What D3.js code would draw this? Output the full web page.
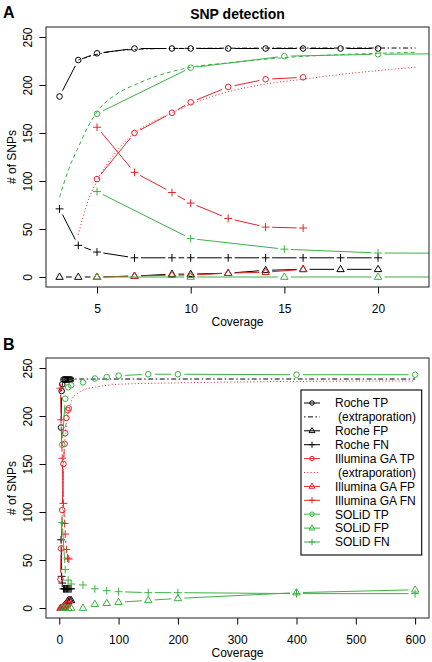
<!DOCTYPE html>
<html>
<head>
<meta charset="utf-8">
<script src="https://cdn.jsdelivr.net/npm/d3@7"></script>
<style>
  html, body { margin: 0; padding: 0; background: #fff; }
  svg { display: block; font-family: "Liberation Sans", Arial, Helvetica, sans-serif; }
</style>
</head>
<body>
<svg id="chart" width="432" height="662"></svg>
<script>
// ---------------- DATA ----------------
const rocheCov = [3, 4, 5, 7, 9, 10, 12, 14, 16, 18, 20];
const rocheTP  = [188, 226, 233, 238, 238, 238, 238, 238, 238, 238, 238];
const rocheFP  = [0, 0, 0, 1, 3, 3, 4, 7, 8, 8, 8];
const rocheFN  = [71, 33, 26, 20, 20, 20, 20, 20, 20, 20, 20];

const rocheExtCov = [4, 5, 6, 7, 8, 10, 14, 20, 22, 30, 50, 100, 200, 400, 600];
const rocheExt    = [226, 232, 235.5, 237, 237.8, 238.2, 238.4, 238.5, 238.5, 238.5, 238.5, 238.5, 238.5, 238.5, 238.5];

const illuminaCov = [5, 7, 9, 10, 12, 14, 16];
const illuminaTP  = [102, 150, 171, 182, 198, 206, 208];
const illuminaFP  = [0, 1, 2, 2, 4, 5, 8];
const illuminaFN  = [156, 109, 88, 77, 61, 52, 51];

// extra low-coverage Illumina runs shown only in the full-range panel B
const illuminaLowCov = [2, 3];
const illuminaLowTP  = [30, 62];
const illuminaLowFP  = [0, 0];
const illuminaLowFN  = [229, 196];

const illuminaExtCov = [4, 4.5, 5, 6, 7, 8, 9, 10, 12, 14, 16, 18, 20, 22, 30, 40, 60, 100, 200, 400, 600];
const illuminaExt    = [44, 78, 100, 130, 150, 162, 171, 180, 193, 201, 206, 211, 215, 218.5, 223, 227, 230, 233, 234.5, 236, 236.5];

const solidCov = [5, 10, 15, 20, 40, 60, 80, 100, 150, 200, 400, 600];
const solidTP  = [170, 218, 230, 232, 235, 239, 240.5, 242, 243.5, 243.5, 243, 243];
const solidFP  = [0, 0, 0, 0, 0, 4, 5, 6, 8, 10, 16, 19];
const solidFN  = [89, 40, 29, 25, 24, 20, 18, 17, 16, 16, 15, 15];

const solidExtCov = [3, 3.5, 4, 4.5, 5, 6, 7, 8, 9, 10, 12, 15, 20, 22];
const solidExt    = [83, 113, 135, 156, 172, 190, 200, 208, 214, 218.5, 223, 228.5, 233, 234];

const yTicks  = [0, 50, 100, 150, 200, 250];
const xTicksA = [5, 10, 15, 20];
const xTicksB = [0, 100, 200, 300, 400, 500, 600];

const legendLabels = ["Roche TP", " (extraporation)", "Roche FP", "Roche FN",
  "Illumina GA TP", " (extraporation)", "Illumina GA FP", "Illumina GA FN",
  "SOLiD TP", "SOLiD FP", "SOLiD FN"];

// ---------------- STYLE ----------------
const BLACK = "#000000", RED = "#e3242b", GREEN = "#3bb143";
const GAP = 6.5;

const svg = d3.select("#chart");
const zip = (xs, ys) => xs.map((x, i) => [x, ys[i]]);

function drawMarker(g, type, x, y, color, s = 1) {
  if (type === "circle") {
    g.append("circle").attr("cx", x).attr("cy", y).attr("r", 2.8 * s)
      .attr("fill", "none").attr("stroke", color).attr("stroke-width", 1);
  } else if (type === "tri") {
    g.append("path")
      .attr("d", `M${x - 3.7 * s},${y + 2.3 * s}L${x},${y - 4 * s}L${x + 3.7 * s},${y + 2.3 * s}Z`)
      .attr("fill", "none").attr("stroke", color).attr("stroke-width", 1);
  } else if (type === "plus") {
    g.append("path")
      .attr("d", `M${x - 3.9 * s},${y}H${x + 3.9 * s}M${x},${y - 3.9 * s}V${y + 3.9 * s}`)
      .attr("fill", "none").attr("stroke", color).attr("stroke-width", 1);
  }
}

// R "type = b": points with gapped line segments
function drawTypeB(g, pts, x, y, color, type) {
  const px = pts.map(p => [x(p[0]), y(p[1])]);
  for (let i = 0; i < px.length - 1; i++) {
    const [x1, y1] = px[i], [x2, y2] = px[i + 1];
    const dx = x2 - x1, dy = y2 - y1, L = Math.hypot(dx, dy);
    if (L <= 2 * GAP) continue;
    const ux = dx / L, uy = dy / L;
    g.append("line")
      .attr("x1", x1 + ux * GAP).attr("y1", y1 + uy * GAP)
      .attr("x2", x2 - ux * GAP).attr("y2", y2 - uy * GAP)
      .attr("stroke", color).attr("stroke-width", 1);
  }
  px.forEach(p => drawMarker(g, type, p[0], p[1], color));
}

function drawExt(g, pts, x, y, color, dash) {
  g.append("path")
    .attr("d", d3.line().x(d => x(d[0])).y(d => y(d[1])).curve(d3.curveMonotoneX)(pts))
    .attr("fill", "none").attr("stroke", color).attr("stroke-width", 1)
    .attr("stroke-dasharray", dash);
}

function panel(cfg) {
  const { L, R, T, B, xDomain, xTicks, id } = cfg;
  const x = d3.scaleLinear().domain(xDomain).range([L, R]);
  const y = d3.scaleLinear().domain([-10.4, 260.4]).range([B, T]);

  svg.append("clipPath").attr("id", id).append("rect")
    .attr("x", L).attr("y", T).attr("width", R - L).attr("height", B - T);

  // axes
  const ax = svg.append("g").attr("transform", `translate(0,${B})`)
    .call(d3.axisBottom(x).tickValues(xTicks).tickSize(6.5).tickSizeOuter(0).tickFormat(d3.format("d")));
  ax.select(".domain").remove();
  ax.selectAll("text").attr("y", 25.5).attr("dy", 0).attr("font-size", 12).attr("font-family", null).attr("fill", "#000");
  ax.selectAll("line").attr("stroke", "#000");

  const ay = svg.append("g").attr("transform", `translate(${L},0)`)
    .call(d3.axisLeft(y).tickValues(yTicks).tickSize(6.5).tickSizeOuter(0));
  ay.select(".domain").remove();
  ay.selectAll("line").attr("stroke", "#000");
  ay.selectAll("text").attr("transform", "rotate(-90)").attr("x", 0).attr("y", -14)
    .attr("dy", 0).attr("text-anchor", "middle").attr("font-size", 12)
    .attr("font-family", null).attr("fill", "#000");

  svg.append("text").attr("x", (L + R) / 2).attr("y", B + 38.5)
    .attr("text-anchor", "middle").attr("font-size", 12).text("Coverage");
  svg.append("text").attr("transform", `translate(15.5,${(T + B) / 2}) rotate(-90)`)
    .attr("text-anchor", "middle").attr("font-size", 12).text("# of SNPs");

  const g = svg.append("g").attr("clip-path", `url(#${id})`);
  cfg.draw(g, x, y);

  svg.append("rect").attr("x", L).attr("y", T).attr("width", R - L).attr("height", B - T)
    .attr("fill", "none").attr("stroke", "#333").attr("stroke-width", 1.1);
  return { x, y };
}

// ---------------- PANEL A ----------------
svg.append("text").attr("x", 3).attr("y", 18).attr("font-size", 16).attr("font-weight", "bold").text("A");
svg.append("text").attr("x", 237.5).attr("y", 19).attr("text-anchor", "middle")
  .attr("font-size", 14).attr("font-weight", "bold").text("SNP detection");

panel({
  id: "clipA", L: 46, R: 429, T: 27, B: 287, xDomain: [2.277, 22.72], xTicks: xTicksA,
  draw: (g, x, y) => {
    drawExt(g, zip(rocheExtCov, rocheExt).filter(d => d[0] <= 22), x, y, BLACK, "1.5,2.5,5,2.5");
    drawTypeB(g, zip(rocheCov, rocheTP), x, y, BLACK, "circle");
    drawTypeB(g, zip(rocheCov, rocheFP), x, y, BLACK, "tri");
    drawTypeB(g, zip(rocheCov, rocheFN), x, y, BLACK, "plus");
    drawExt(g, zip(illuminaExtCov, illuminaExt).filter(d => d[0] <= 22), x, y, RED, "1,2.3");
    drawTypeB(g, zip(illuminaCov, illuminaTP), x, y, RED, "circle");
    drawTypeB(g, zip(illuminaCov, illuminaFP), x, y, RED, "tri");
    drawTypeB(g, zip(illuminaCov, illuminaFN), x, y, RED, "plus");
    drawExt(g, zip(solidExtCov, solidExt), x, y, GREEN, "4,3");
    drawTypeB(g, zip(solidCov, solidTP), x, y, GREEN, "circle");
    drawTypeB(g, zip(solidCov, solidFP), x, y, GREEN, "tri");
    drawTypeB(g, zip(solidCov, solidFN), x, y, GREEN, "plus");
  }
});

// ---------------- PANEL B ----------------
svg.append("text").attr("x", 3).attr("y", 350).attr("font-size", 16).attr("font-weight", "bold").text("B");

panel({
  id: "clipB", L: 46, R: 429, T: 358, B: 618, xDomain: [-22.4, 623.4], xTicks: xTicksB,
  draw: (g, x, y) => {
    drawExt(g, zip(rocheExtCov, rocheExt), x, y, BLACK, "1.5,2.5,5,2.5");
    drawTypeB(g, zip(rocheCov, rocheTP), x, y, BLACK, "circle");
    drawTypeB(g, zip(rocheCov, rocheFP), x, y, BLACK, "tri");
    drawTypeB(g, zip(rocheCov, rocheFN), x, y, BLACK, "plus");
    drawExt(g, zip(illuminaExtCov, illuminaExt), x, y, RED, "1,2.3");
    drawTypeB(g, zip(illuminaLowCov.concat(illuminaCov), illuminaLowTP.concat(illuminaTP)), x, y, RED, "circle");
    drawTypeB(g, zip(illuminaLowCov.concat(illuminaCov), illuminaLowFP.concat(illuminaFP)), x, y, RED, "tri");
    drawTypeB(g, zip(illuminaLowCov.concat(illuminaCov), illuminaLowFN.concat(illuminaFN)), x, y, RED, "plus");
    drawTypeB(g, zip(solidCov, solidTP), x, y, GREEN, "circle");
    drawTypeB(g, zip(solidCov, solidFP), x, y, GREEN, "tri");
    drawTypeB(g, zip(solidCov, solidFN), x, y, GREEN, "plus");
  }
});

// ---------------- LEGEND ----------------
const legendStyle = [
  { c: BLACK, m: "circle" }, { c: BLACK, dash: "1.5,2.5,5,2.5" }, { c: BLACK, m: "tri" }, { c: BLACK, m: "plus" },
  { c: RED, m: "circle" }, { c: RED, dash: "1,2.3" }, { c: RED, m: "tri" }, { c: RED, m: "plus" },
  { c: GREEN, m: "circle" }, { c: GREEN, m: "tri" }, { c: GREEN, m: "plus" }
];
const lg = svg.append("g");
lg.append("rect").attr("x", 301).attr("y", 390).attr("width", 120.7).attr("height", 165)
  .attr("fill", "#fff").attr("stroke", "#000").attr("stroke-width", 1.1);
const ly = d3.scalePoint().domain(d3.range(legendLabels.length)).range([403, 542]);
legendLabels.forEach((lab, i) => {
  const st = legendStyle[i], yy = ly(i);
  lg.append("line").attr("x1", 304).attr("x2", 320).attr("y1", yy).attr("y2", yy)
    .attr("stroke", st.c).attr("stroke-width", 1).attr("stroke-dasharray", st.dash || null);
  if (st.m) drawMarker(lg, st.m, 312, yy, st.c, 0.8);
  lg.append("text").attr("x", lab.startsWith(" ") ? 338 : 335).attr("y", yy + 4.3)
    .attr("font-size", 12).text(lab.trim());
});
</script>
</body>
</html>
